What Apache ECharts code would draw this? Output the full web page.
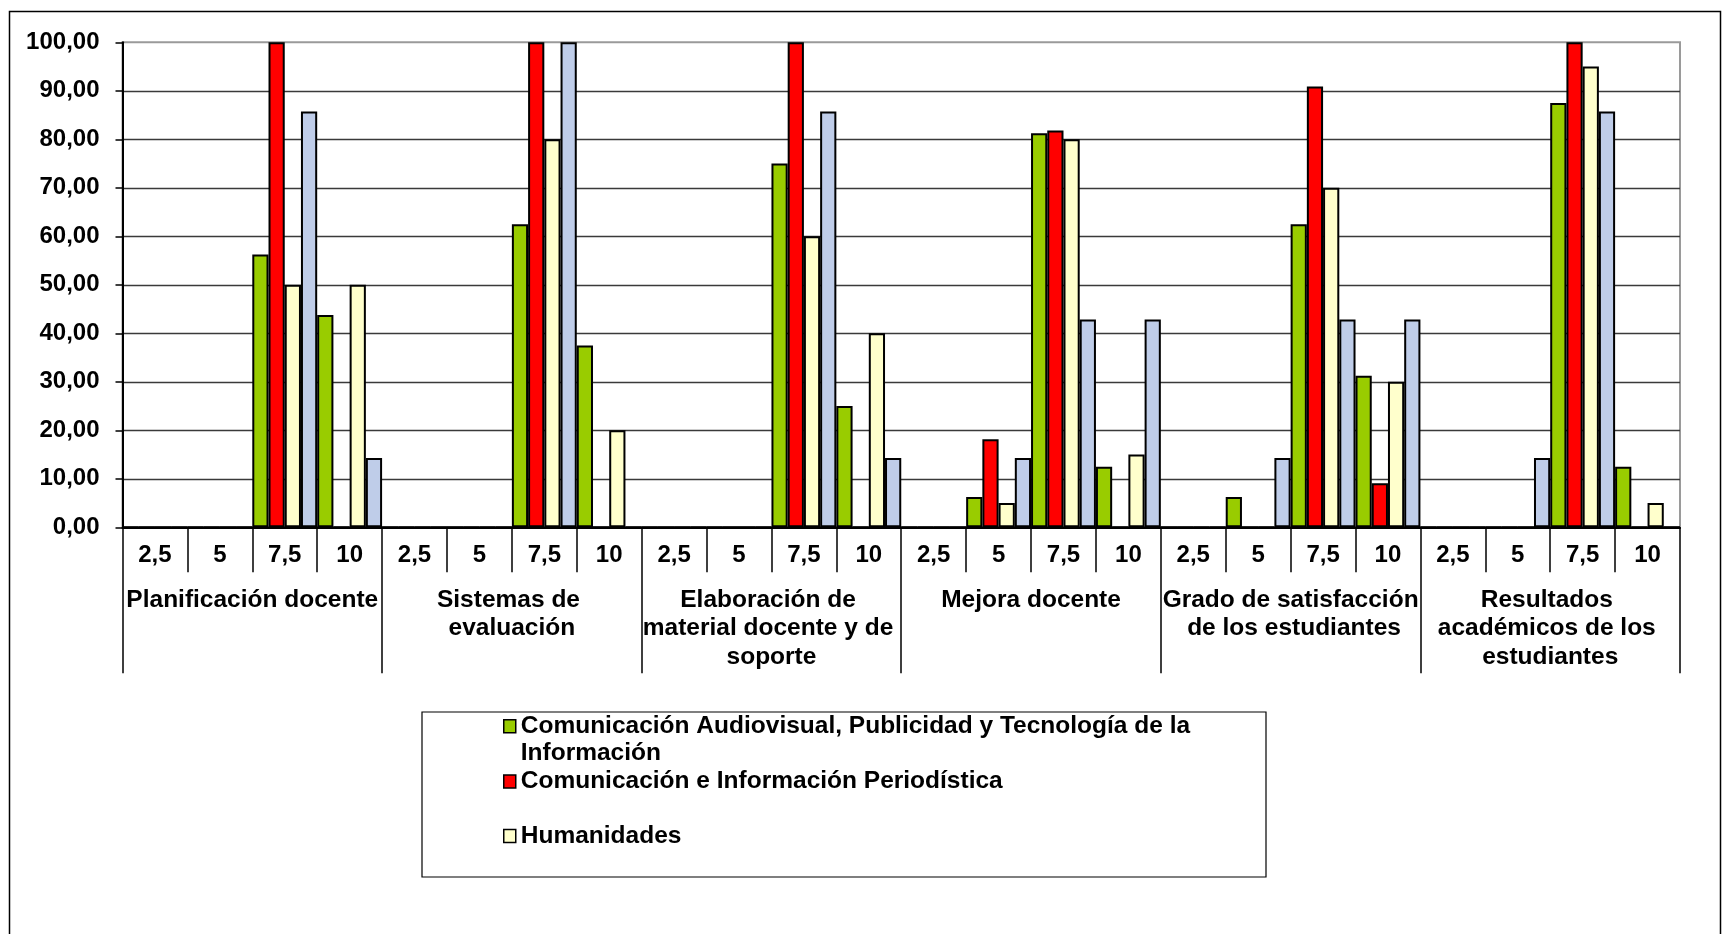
<!DOCTYPE html>
<html><head><meta charset="utf-8">
<script src="https://cdn.jsdelivr.net/npm/echarts@6/dist/echarts.min.js"></script>
<style>html,body{margin:0;padding:0;background:#fff;} #c{width:1722px;height:934px;}</style>
</head><body><div id="c"></div>
<script>
// ---- data ----
const groups = ['Planificación docente', 'Sistemas de evaluación', 'Elaboración de material docente y de soporte', 'Mejora docente', 'Grado de satisfacción de los estudiantes', 'Resultados académicos de los estudiantes'];
const scores = ['2,5', '5', '7,5', '10'];
const seriesNames = ['Comunicación Audiovisual, Publicidad y Tecnología de la Información', 'Comunicación e Información Periodística', 'Humanidades', 'Serie 4'];
const yTicks = [0, 10, 20, 30, 40, 50, 60, 70, 80, 90, 100];
// values: 6 groups x 4 scores
const audiovisual  = [0, 0, 56.25, 43.75,  0, 0, 62.5, 37.5,  0, 0, 75, 25,  0, 6.25, 81.25, 12.5,  0, 6.25, 62.5, 31.25,  0, 0, 87.5, 12.5];
const periodistica = [0, 0, 100, 0,  0, 0, 100, 0,  0, 0, 100, 0,  0, 18.18, 81.82, 0,  0, 0, 90.91, 9.09,  0, 0, 100, 0];
const humanidades  = [0, 0, 50, 50,  0, 0, 80, 20,  0, 0, 60, 40,  0, 5, 80, 15,  0, 0, 70, 30,  0, 0, 95, 5];
const serie4       = [0, 0, 85.71, 14.29,  0, 0, 100, 0,  0, 0, 85.71, 14.29,  0, 14.29, 42.86, 42.86,  0, 14.29, 42.86, 42.86,  0, 14.29, 85.71, 0];

// ---- build ----
const subCats = [];
groups.forEach(() => scores.forEach(s => subCats.push(s)));
const font = "'Liberation Sans', Arial, Helvetica, sans-serif";
const colors = ['#99cc00', '#ff0000', '#ffffcc', '#bfcde9'];
const values = [audiovisual, periodistica, humanidades, serie4];

const chart = echarts.init(document.getElementById('c'), null, {renderer: 'canvas'});
const legendBase = {
  left: 503, padding: 0, icon: 'rect', itemWidth: 12, itemHeight: 13, selectedMode: false,
  itemStyle: {borderColor: '#000', borderWidth: 1.5}
};
const legTxt = (extra) => Object.assign({fontSize: 24.5, fontWeight: 'bold', fontFamily: font, color: '#000'}, extra);

chart.setOption({
  animation: false,
  backgroundColor: '#fff',
  grid: {left: 122.5, top: 42.3, width: 1557.5, height: 485, show: true, borderColor: '#9a9a9a', borderWidth: 2, backgroundColor: 'transparent'},
  xAxis: [
    {
      type: 'category', data: subCats, position: 'bottom', gridIndex: 0,
      axisLine: {show: true, lineStyle: {color: '#000', width: 2}},
      axisTick: {show: true, interval: 0, length: 45, lineStyle: {color: '#000', width: 1.5}},
      axisLabel: {interval: 0, margin: 16, fontSize: 24, lineHeight: 24, fontWeight: 'bold', fontFamily: font, color: '#000'},
      splitLine: {show: false}
    },
    {
      type: 'category', data: groups, position: 'bottom', gridIndex: 0,
      axisLine: {show: false},
      axisTick: {show: true, interval: 0, length: 146, lineStyle: {color: '#000', width: 1.5}},
      axisLabel: {interval: 0, margin: 58.5, fontSize: 24.5, lineHeight: 28.5, width: 270, overflow: 'break', fontWeight: 'bold', fontFamily: font, color: '#000', align: 'center'},
      splitLine: {show: false}
    }
  ],
  yAxis: {
    type: 'value', min: yTicks[0], max: yTicks[yTicks.length - 1], interval: yTicks[1] - yTicks[0],
    axisLine: {show: true, lineStyle: {color: '#000', width: 2}},
    axisTick: {show: true, inside: false, length: 7, lineStyle: {color: '#000', width: 1.5}},
    axisLabel: {margin: 23, fontSize: 24, fontWeight: 'bold', fontFamily: font, color: '#000',
      formatter: v => v.toFixed(2).replace('.', ',')},
    splitLine: {show: true, showMaxLine: false, lineStyle: {color: '#3a3a3a', width: 1.3}}
  },
  legend: [
    Object.assign({}, legendBase, {data: [seriesNames[0]], top: 685.8,
      formatter: name => '\n' + name,
      textStyle: legTxt({lineHeight: 27, width: 740, overflow: 'break'})}),
    Object.assign({}, legendBase, {data: [seriesNames[1]], top: 769, textStyle: legTxt({lineHeight: 13})}),
    Object.assign({}, legendBase, {data: [seriesNames[2]], top: 823.5, textStyle: legTxt({lineHeight: 13})})
  ],
  series: seriesNames.map((n, i) => ({
    name: n, type: 'bar', xAxisIndex: 0, yAxisIndex: 0,
    data: values[i], barGap: '0%', barCategoryGap: '0%',
    itemStyle: {color: colors[i], borderColor: '#000', borderWidth: 2},
    emphasis: {disabled: true}
  })),
  graphic: [
    {type: 'rect', silent: true, z: 100, shape: {x: 9.5, y: 11.5, width: 1711, height: 940}, style: {fill: 'none', stroke: '#000', lineWidth: 1.5}},
    {type: 'rect', silent: true, z: 100, shape: {x: 422, y: 712, width: 844, height: 165}, style: {fill: 'none', stroke: '#000', lineWidth: 1.2}}
  ]
});
</script></body></html>
